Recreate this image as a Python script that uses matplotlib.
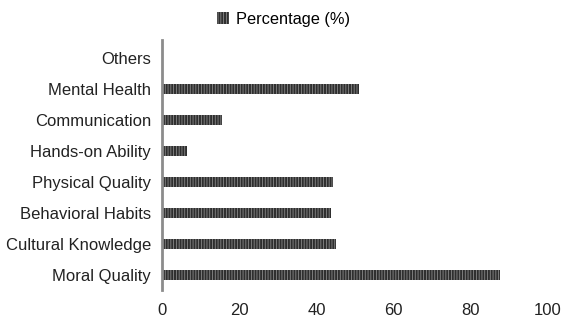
import numpy as np
import matplotlib.pyplot as plt

# categories bottom -> top
categories = ['Moral Quality', 'Cultural Knowledge', 'Behavioral Habits', 'Physical Quality',
              'Hands-on Ability', 'Communication', 'Mental Health', 'Others']
percentage = [87.7, 45.2, 43.7, 44.4, 6.4, 15.5, 51.0, 0.0]
xticks = [0, 20, 40, 60, 80, 100]

plt.rcParams['font.family'] = ['Liberation Sans', 'DejaVu Sans']
plt.rcParams['hatch.linewidth'] = 0.6
plt.rcParams['hatch.color'] = '#8a8a8a'

fig = plt.figure(figsize=(5.67, 3.22), dpi=100)
ax = fig.add_axes([0.286, 0.099, 0.68, 0.777])

y = np.arange(len(categories))
ax.barh(y, percentage, height=0.33, color='#2e2e2e', edgecolor='#8a8a8a',
        linewidth=0, hatch='||||||', label='Percentage (%)')

ax.set_xlim(0, 100)
ax.set_ylim(-0.5, 7.58)
ax.set_yticks(y)
ax.set_yticklabels(categories, fontsize=12, color='#222222')
ax.set_xticks(xticks)
ax.set_xticklabels([str(t) for t in xticks], fontsize=12, color='#222222')
ax.tick_params(axis='both', length=0)
ax.tick_params(axis='y', pad=8)
ax.tick_params(axis='x', pad=9)

for s in ['top', 'right', 'bottom']:
    ax.spines[s].set_visible(False)
ax.spines['left'].set_color('#8c8c8c')
ax.spines['left'].set_linewidth(2)

fig.legend(loc='upper center', bbox_to_anchor=(0.5, 1.01), frameon=False,
           fontsize=11.8, handlelength=0.7, handleheight=0.7, handletextpad=0.4)

fig.savefig('out.png', dpi=100)
